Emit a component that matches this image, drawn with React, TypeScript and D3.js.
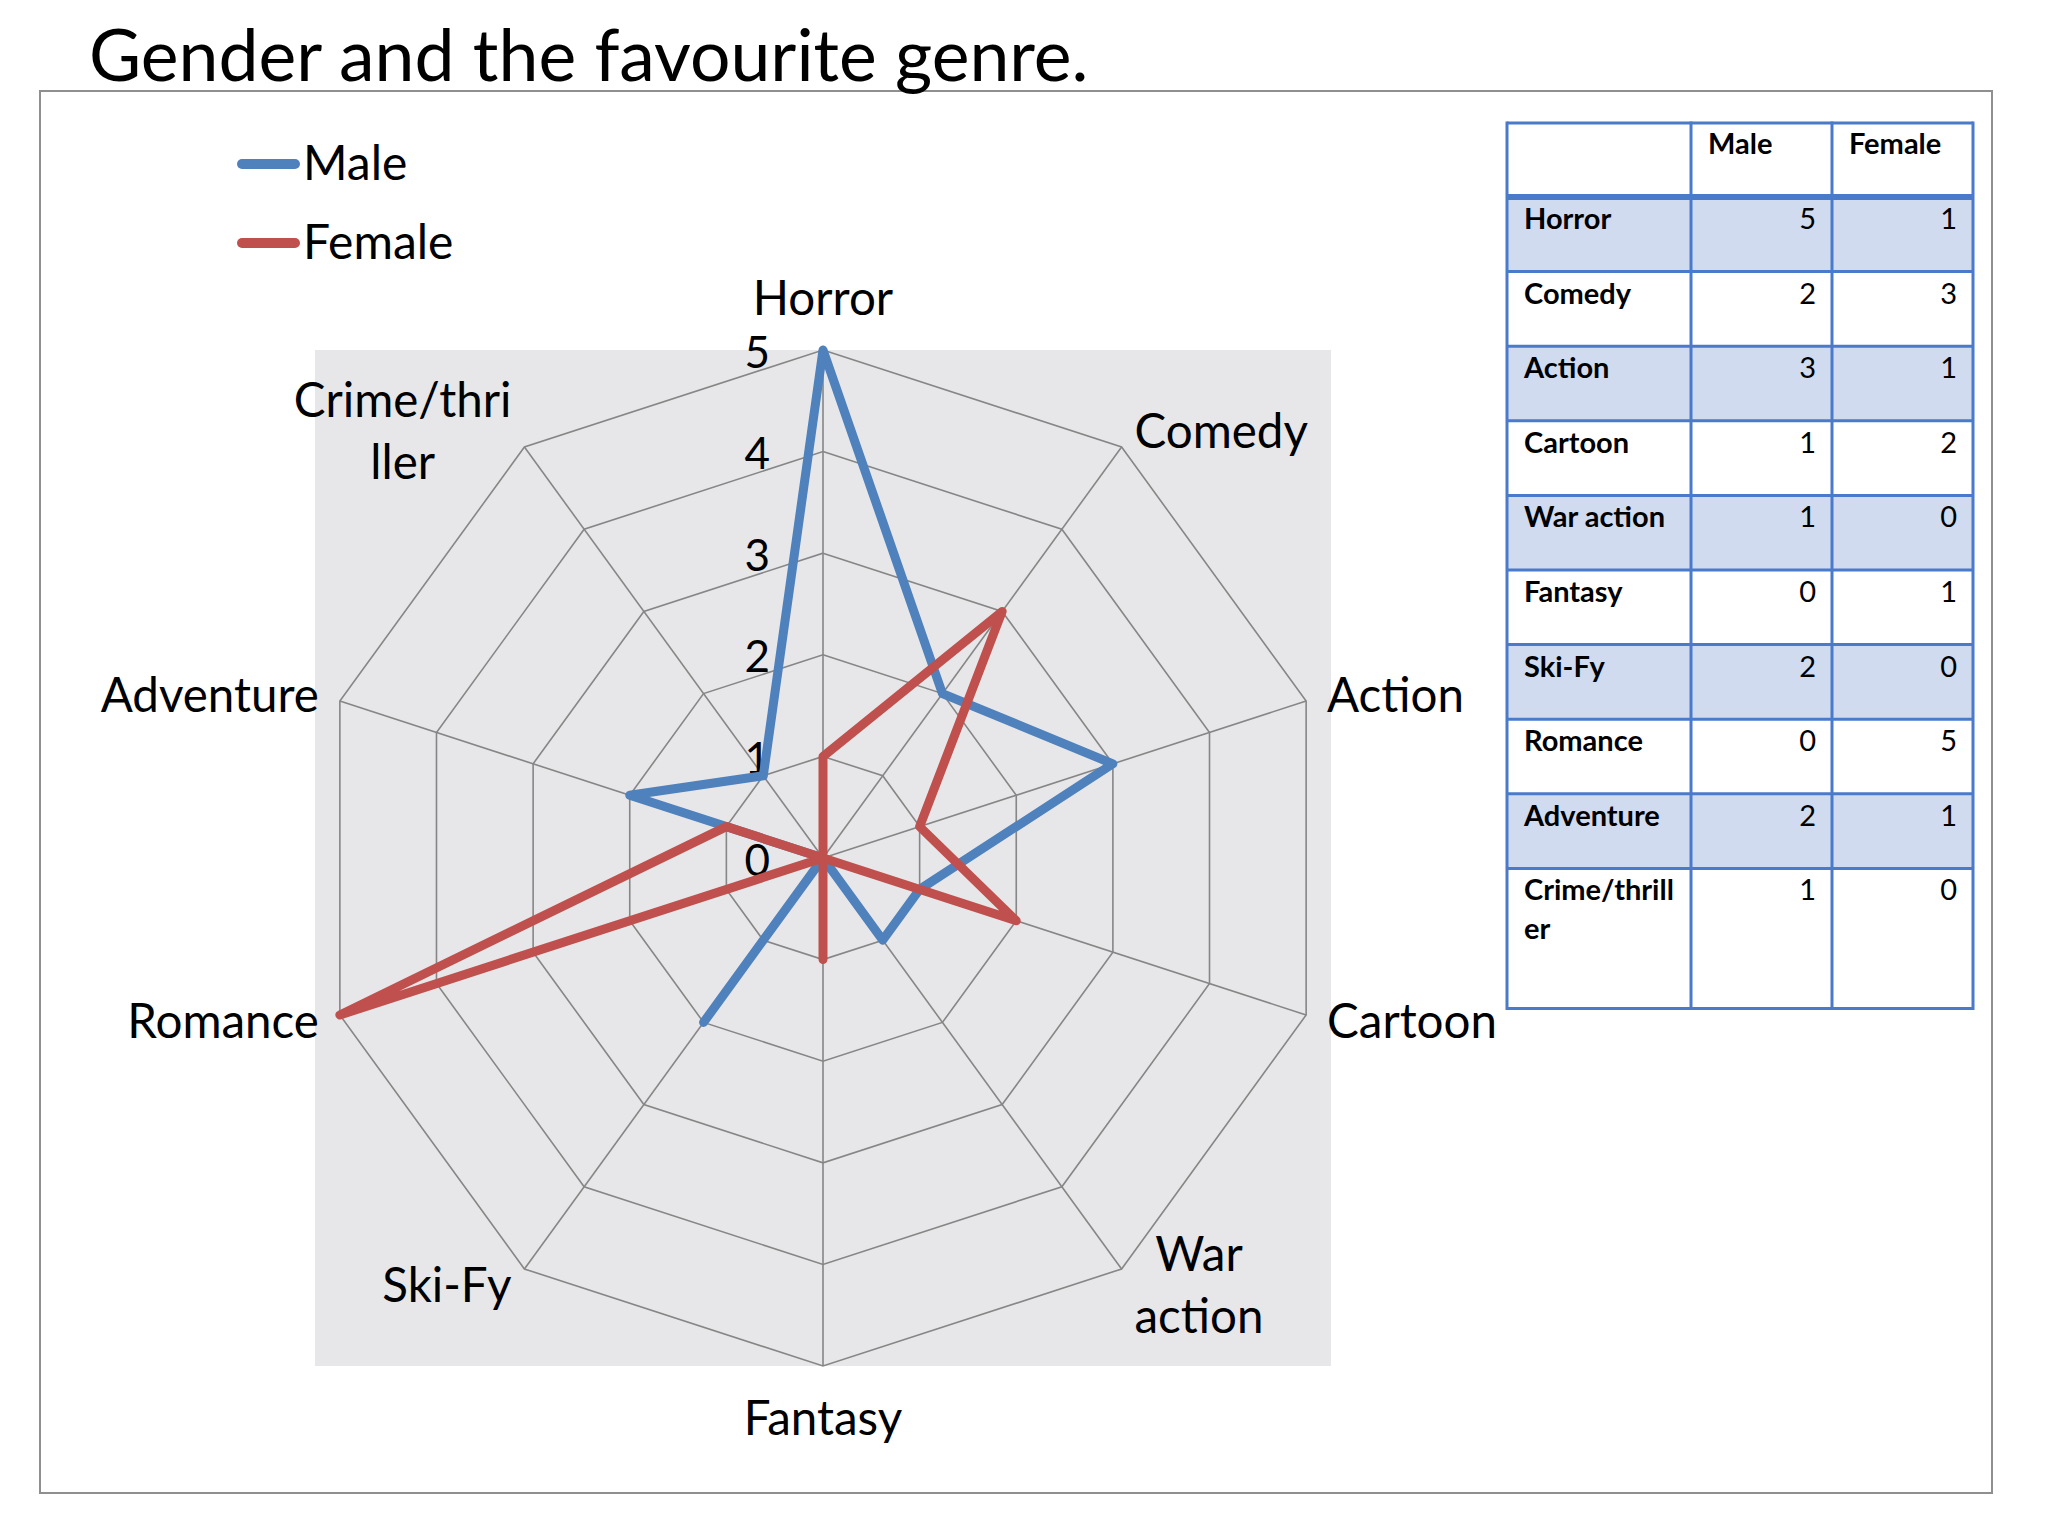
import React, { useEffect, useRef } from "react";
import * as d3 from "d3";

const title = "Gender and the favourite genre.";
const categories = ["Horror", "Comedy", "Action", "Cartoon", "War action", "Fantasy", "Ski-Fy", "Romance", "Adventure", "Crime/thriller"];
const axisLabelLines = [["Horror"], ["Comedy"], ["Action"], ["Cartoon"], ["War", "action"], ["Fantasy"], ["Ski-Fy"], ["Romance"], ["Adventure"], ["Crime/thri", "ller"]];
const tableLabelLines = [["Horror"], ["Comedy"], ["Action"], ["Cartoon"], ["War action"], ["Fantasy"], ["Ski-Fy"], ["Romance"], ["Adventure"], ["Crime/thrill", "er"]];
const maleValues = [5, 2, 3, 1, 1, 0, 2, 0, 2, 1];
const femaleValues = [1, 3, 1, 2, 0, 1, 0, 5, 1, 0];
const seriesNames = ["Male", "Female"];
const seriesColors = ["#4F81BD", "#C0504D"];
const radialTicks = [0, 1, 2, 3, 4, 5];

const FONT = "Lato, 'Open Sans', sans-serif";

export default function App() {
  const ref = useRef<SVGSVGElement | null>(null);

  useEffect(() => {
    const svg = d3.select(ref.current);
    svg.selectAll("*").remove();

    const series = [maleValues, femaleValues];
    const n = categories.length;

    // outer chart frame
    svg.append("rect").attr("x", 40).attr("y", 91).attr("width", 1952).attr("height", 1402)
      .attr("fill", "#ffffff").attr("stroke", "#8f8f8f").attr("stroke-width", 2);

    // title
    svg.append("text").attr("x", 89).attr("y", 81).attr("font-family", FONT).attr("font-size", 71.5)
      .attr("fill", "#000").text(title);

    // radar
    const cx = 823, cy = 858, R = 508;
    const r = d3.scaleLinear().domain([0, 5]).range([0, R]);
    const angle = d3.scaleLinear().domain([0, n]).range([0, 2 * Math.PI]);

    svg.append("rect").attr("x", cx - R).attr("y", cy - R).attr("width", 2 * R).attr("height", 2 * R)
      .attr("fill", "#e7e7e9");

    const g = svg.append("g").attr("transform", `translate(${cx},${cy})`);

    const gridLine = d3.lineRadial<number>()
      .angle((_d, i) => angle(i))
      .radius((d) => r(d))
      .curve(d3.curveLinearClosed);

    radialTicks.filter((t) => t > 0).forEach((t) => {
      g.append("path").attr("d", gridLine(categories.map(() => t)) as string)
        .attr("fill", "none").attr("stroke", "#868686").attr("stroke-width", 1.6);
    });
    categories.forEach((_c, i) => {
      const a = angle(i);
      g.append("line").attr("x1", 0).attr("y1", 0)
        .attr("x2", r(5) * Math.sin(a)).attr("y2", -r(5) * Math.cos(a))
        .attr("stroke", "#868686").attr("stroke-width", 1.6);
    });

    // tick labels
    radialTicks.forEach((t) => {
      g.append("text").attr("x", -53).attr("y", -r(t)).attr("dy", "0.4em")
        .attr("text-anchor", "end").attr("font-family", FONT).attr("font-size", 44)
        .attr("fill", "#000").text(String(t));
    });

    // data
    series.forEach((vals, si) => {
      g.append("path").attr("d", gridLine(vals) as string)
        .attr("fill", "none").attr("stroke", seriesColors[si]).attr("stroke-width", 9)
        .attr("stroke-linejoin", "round");
    });

    // category labels
    const capHalf = 17, lh = 62, fs = 47.5;
    axisLabelLines.forEach((lines, i) => {
      const a = angle(i);
      const s = Math.sin(a), c = Math.cos(a);
      const px = cx + R * s, py = cy - R * c;
      const off = Math.abs(c) > 0.99 ? 52 : 20;
      const centerY = py - c * off;
      const firstCenter = centerY - ((lines.length - 1) * lh) / 2;
      const t = svg.append("text").attr("font-family", FONT).attr("font-size", fs).attr("fill", "#000");
      const spans = lines.map((ln, k) =>
        t.append("tspan").attr("y", firstCenter + k * lh + capHalf).text(ln)
      );
      let maxW = 0;
      spans.forEach((sp) => { maxW = Math.max(maxW, (sp.node() as SVGTSpanElement).getComputedTextLength()); });
      const dx = 22 * Math.abs(s);
      let x = px;
      if (s > 0.1) x = px + dx + maxW / 2;
      else if (s < -0.1) x = px - dx - maxW / 2;
      t.attr("text-anchor", "middle");
      spans.forEach((sp) => sp.attr("x", x));
    });

    // legend
    const legendY = [164, 243];
    seriesNames.forEach((name, si) => {
      svg.append("line").attr("x1", 242).attr("x2", 295).attr("y1", legendY[si]).attr("y2", legendY[si])
        .attr("stroke", seriesColors[si]).attr("stroke-width", 10).attr("stroke-linecap", "round");
      svg.append("text").attr("x", 303).attr("y", legendY[si] + 16).attr("font-family", FONT)
        .attr("font-size", 48).attr("fill", "#000").text(name);
    });

    // table
    const colX = [1507, 1691, 1832, 1973];
    const tableTop = 123, headerBottom = 197, rowH = 74.6, lastRowH = 140;
    const rowTops = categories.map((_c, i) => headerBottom + i * rowH);
    const rowHeights = categories.map((_c, i) => (i === n - 1 ? lastRowH : rowH));
    const tableBottom = rowTops[n - 1] + lastRowH;
    const border = "#4A7BCB";

    svg.append("rect").attr("x", colX[0]).attr("y", tableTop).attr("width", colX[3] - colX[0])
      .attr("height", tableBottom - tableTop).attr("fill", "#ffffff");
    categories.forEach((_c, i) => {
      if (i % 2 === 0) {
        svg.append("rect").attr("x", colX[0]).attr("y", rowTops[i]).attr("width", colX[3] - colX[0])
          .attr("height", rowHeights[i]).attr("fill", "#D0DBF0");
      }
    });
    const hLines = [tableTop, ...rowTops.slice(1), tableBottom];
    hLines.forEach((y) => {
      svg.append("line").attr("x1", colX[0]).attr("x2", colX[3]).attr("y1", y).attr("y2", y)
        .attr("stroke", border).attr("stroke-width", 3);
    });
    svg.append("line").attr("x1", colX[0]).attr("x2", colX[3]).attr("y1", headerBottom).attr("y2", headerBottom)
      .attr("stroke", border).attr("stroke-width", 6);
    colX.forEach((x) => {
      svg.append("line").attr("x1", x).attr("x2", x).attr("y1", tableTop - 1.5).attr("y2", tableBottom + 1.5)
        .attr("stroke", border).attr("stroke-width", 3);
    });

    const tfs = 29;
    seriesNames.forEach((name, si) => {
      svg.append("text").attr("x", colX[si + 1] + 17).attr("y", tableTop + 31).attr("font-family", FONT)
        .attr("font-size", tfs).attr("font-weight", "bold").attr("fill", "#000").text(name);
    });
    tableLabelLines.forEach((lines, i) => {
      const t = svg.append("text").attr("font-family", FONT).attr("font-size", tfs)
        .attr("font-weight", "bold").attr("fill", "#000");
      lines.forEach((ln, k) => {
        t.append("tspan").attr("x", colX[0] + 17).attr("y", rowTops[i] + 32 + k * 39).text(ln);
      });
      series.forEach((vals, si) => {
        svg.append("text").attr("x", colX[si + 2] - 16).attr("y", rowTops[i] + 32)
          .attr("text-anchor", "end").attr("font-family", FONT).attr("font-size", tfs)
          .attr("fill", "#000").text(String(vals[i]));
      });
    });
  }, []);

  return (
    <svg
      ref={ref}
      width={2048}
      height={1536}
      style={{ position: "absolute", left: 0, top: 0, display: "block", background: "#ffffff" }}
    />
  );
}
